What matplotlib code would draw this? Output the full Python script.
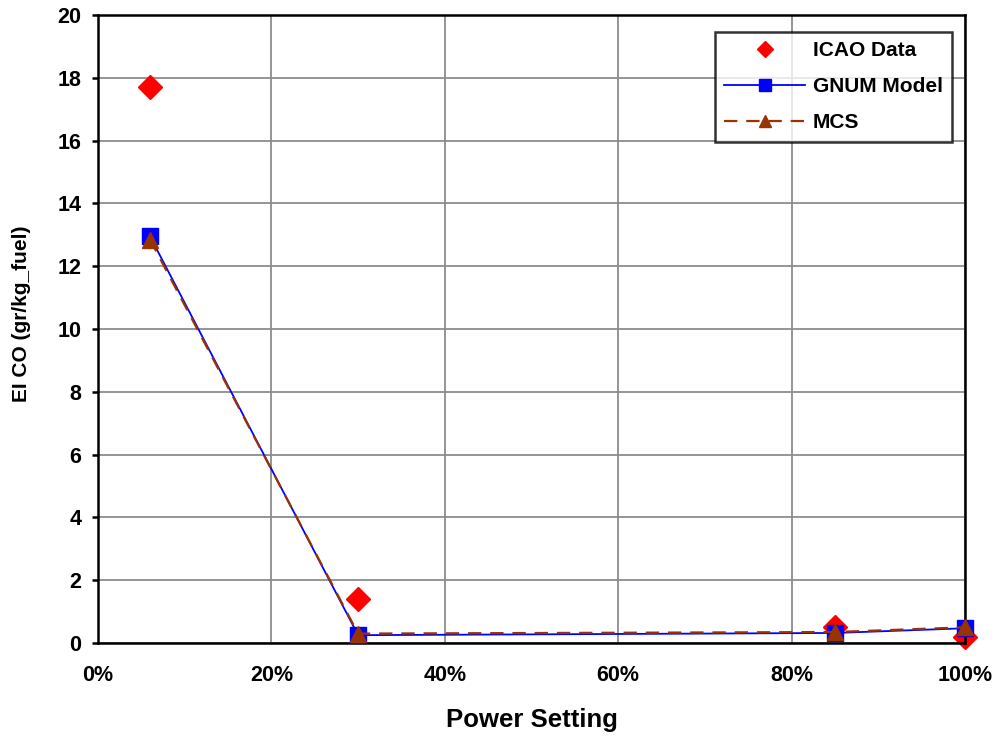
import matplotlib
matplotlib.use("Agg")
import matplotlib.pyplot as plt
from matplotlib.ticker import FuncFormatter

plt.rcParams['font.family'] = ['Liberation Sans', 'DejaVu Sans']

power = [0.06, 0.30, 0.85, 1.00]
icao = [17.7, 1.4, 0.5, 0.2]
gnum = [12.95, 0.25, 0.32, 0.47]
mcs = [12.85, 0.30, 0.35, 0.50]

fig = plt.figure(figsize=(10.07, 7.38), dpi=100)
ax = fig.add_axes([0.0973, 0.1287, 0.861, 0.851])

ax.plot(power, gnum, color='#0000FF', lw=1.3, marker='s', ms=11.5,
        mfc='#0000FF', mec='#0000FF', label='GNUM Model', zorder=3, clip_on=False)
ax.plot(power, mcs, color='#993300', lw=1.6, ls=(0, (6, 4)), marker='^', ms=12,
        mfc='#993300', mec='#993300', label='MCS', zorder=4, clip_on=False)
ax.plot(power, icao, ls='none', marker='D', ms=12, color='#FF0000',
        label='ICAO Data', zorder=2, clip_on=False)

ax.set_xlim(0, 1)
ax.set_ylim(0, 20)
ax.set_xticks([0, 0.2, 0.4, 0.6, 0.8, 1.0])
ax.set_yticks(range(0, 21, 2))
ax.xaxis.set_major_formatter(FuncFormatter(lambda v, p: f"{v*100:.0f}%"))
ax.grid(True, color='#8c8c8c', lw=1.3)
ax.set_axisbelow(True)
for s in ax.spines.values():
    s.set_color('black')
    s.set_linewidth(1.8)
ax.tick_params(axis='both', labelsize=15.5, width=1.8, length=4, direction='out')
ax.tick_params(axis='y', pad=8)
ax.tick_params(axis='x', length=0, pad=16)
for lbl in ax.get_xticklabels() + ax.get_yticklabels():
    lbl.set_fontweight('bold')

ax.set_xlabel('Power Setting', fontsize=18.5, fontweight='bold', va='center')
ax.xaxis.set_label_coords(0.5, -0.1226)
ax.set_ylabel('EI CO (gr/kg_fuel)', fontsize=15, fontweight='bold', va='center')
ax.yaxis.set_label_coords(-0.0877, 0.524)

handles, labels = ax.get_legend_handles_labels()
order = [2, 0, 1]
leg = ax.legend([handles[i] for i in order], [labels[i] for i in order],
                loc='upper right', bbox_to_anchor=(0.985, 0.973),
                prop={'weight': 'bold', 'size': 15}, frameon=True, fancybox=False,
                edgecolor='black', handlelength=3.9, handletextpad=0.35,
                borderpad=0.45, labelspacing=0.82, markerscale=0.7,
                borderaxespad=0)
leg.get_frame().set_linewidth(1.8)

fig.savefig('out.png', dpi=100)
